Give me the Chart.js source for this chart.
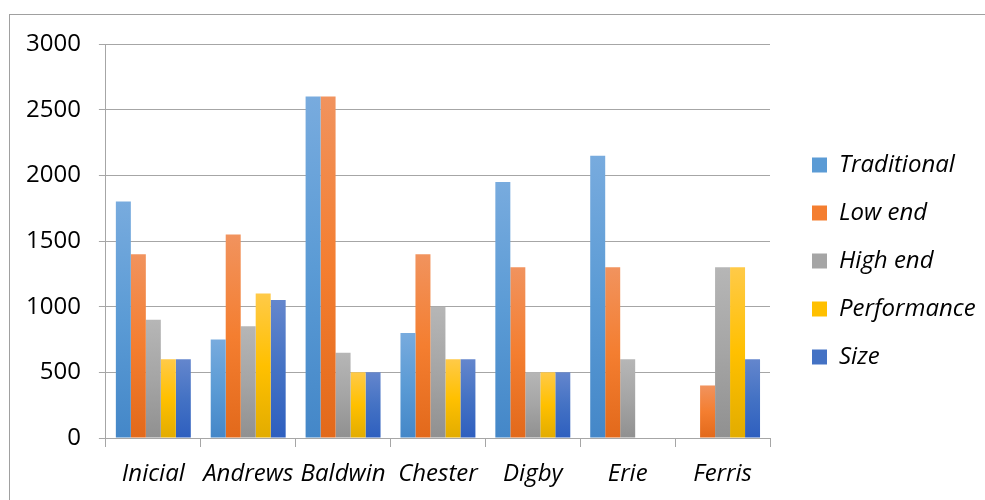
<!DOCTYPE html>
<html>
<head>
  <title>Segment demand by company</title>
  <script src="https://cdn.jsdelivr.net/npm/chart.js"></script>
  <style>
    html, body { margin: 0; padding: 0; background: #fff; overflow: hidden; }
  </style>
</head>
<body>
  <canvas id="chart" width="985" height="500"></canvas>

  <script>
    // Categories and series
    const categories = ["Inicial", "Andrews", "Baldwin", "Chester", "Digby", "Erie", "Ferris"];
    const traditional = [1800, 750, 2600, 800, 1950, 2150, 0];
    const lowEnd      = [1400, 1550, 2600, 1400, 1300, 1300, 400];
    const highEnd     = [900, 850, 650, 1000, 500, 600, 1300];
    const performance = [600, 1100, 500, 600, 500, 0, 1300];
    const size        = [600, 1050, 500, 600, 500, 0, 600];
    const yTicks = [0, 500, 1000, 1500, 2000, 2500, 3000];

    const FONT = "'Open Sans', sans-serif";

    // Excel-like vertical gradient per bar (light top -> dark bottom)
    function barGradient(top, mid, bottom) {
      return function (ctx) {
        if (ctx.type !== "data") return mid;
        const chart = ctx.chart;
        const y = chart.scales.y;
        if (!y || !ctx.parsed) return mid;
        const y0 = y.getPixelForValue(ctx.parsed.y);
        const y1 = y.getPixelForValue(0);
        if (!isFinite(y0) || !isFinite(y1) || y0 === y1) return mid;
        const g = chart.ctx.createLinearGradient(0, y0, 0, y1);
        g.addColorStop(0, top);
        g.addColorStop(0.5, mid);
        g.addColorStop(1, bottom);
        return g;
      };
    }

    const series = [
      { label: "Traditional", data: traditional, c: ["#78ABDE", "#5B9BD5", "#4487C8"] },
      { label: "Low end",     data: lowEnd,      c: ["#F1935E", "#F47E30", "#E2691B"] },
      { label: "High end",    data: highEnd,     c: ["#B6B6B6", "#A5A5A5", "#909090"] },
      { label: "Performance", data: performance, c: ["#FFCA48", "#FFC000", "#E2AC00"] },
      { label: "Size",        data: size,        c: ["#6486CD", "#4472C4", "#2E5FBF"] }
    ];

    // grey frame around the chart, cut off at the right/bottom like the screenshot
    const framePlugin = {
      id: "frame",
      afterInit(chart) {
        // fixed legend width so the plot ends where the reference does
        const lg = chart.legend;
        const fit = lg.fit;
        lg.fit = function () {
          fit.call(this);
          this.width = 197;
        };
      },
      afterLayout(chart) {
        // lift the legend block a little (it is centred on its box)
        chart.legend.bottom -= 16;
      },
      beforeDraw(chart) {
        const c = chart.ctx;
        c.save();
        c.fillStyle = "#fff";
        c.fillRect(0, 0, chart.width, chart.height);
        c.strokeStyle = "#A0A0A0";
        c.lineWidth = 1;
        c.strokeRect(9.5, 14.5, 1200, 1200);
        c.restore();
      }
    };

    new Chart(document.getElementById("chart"), {
      type: "bar",
      data: {
        labels: categories,
        datasets: series.map(s => ({
          label: s.label,
          data: s.data,
          backgroundColor: barGradient(s.c[0], s.c[1], s.c[2]),
          legendColor: s.c[1],
          borderWidth: 0,
          categoryPercentage: 0.79,
          barPercentage: 1.0
        }))
      },
      options: {
        responsive: false,
        animation: false,
        layout: { padding: { left: 8, top: 44, right: 0, bottom: 6 } },
        plugins: {
          tooltip: { enabled: false },
          legend: {
            position: "right",
            labels: {
              font: { family: FONT, size: 24, style: "italic" },
              color: "#000",
              boxWidth: 15,
              boxHeight: 15,
              padding: 24,
              generateLabels(chart) {
                return chart.data.datasets.map((ds, i) => ({
                  text: ds.label,
                  fillStyle: ds.legendColor,
                  strokeStyle: ds.legendColor,
                  lineWidth: 0,
                  hidden: false,
                  datasetIndex: i
                }));
              }
            }
          }
        },
        scales: {
          x: {
            grid: {
              drawOnChartArea: false,
              drawTicks: true,
              tickLength: 9,
              color: "#A6A6A6",
              offset: true
            },
            border: { display: true, color: "#A6A6A6" },
            ticks: {
              font: { family: FONT, size: 24, style: "italic" },
              color: "#000",
              padding: 13,
              maxRotation: 0,
              autoSkip: false
            },
            afterFit(axis) { axis.height = 56; }
          },
          y: {
            min: 0,
            max: 3000,
            afterBuildTicks(axis) {
              axis.ticks = yTicks.map(v => ({ value: v }));
            },
            grid: { color: "#A6A6A6", tickLength: 7 },
            border: { display: true, color: "#A6A6A6" },
            ticks: {
              font: { family: FONT, size: 24 },
              color: "#000",
              padding: 18,
              callback: v => String(v)
            }
          },
          // empty spacer between the plot and the legend
          spacer: {
            type: "linear",
            position: "right",
            display: true,
            grid: { display: false },
            border: { display: false },
            ticks: { display: false },
            afterFit(axis) { axis.width = 18; }
          }
        }
      },
      plugins: [framePlugin]
    });
  </script>
</body>
</html>
